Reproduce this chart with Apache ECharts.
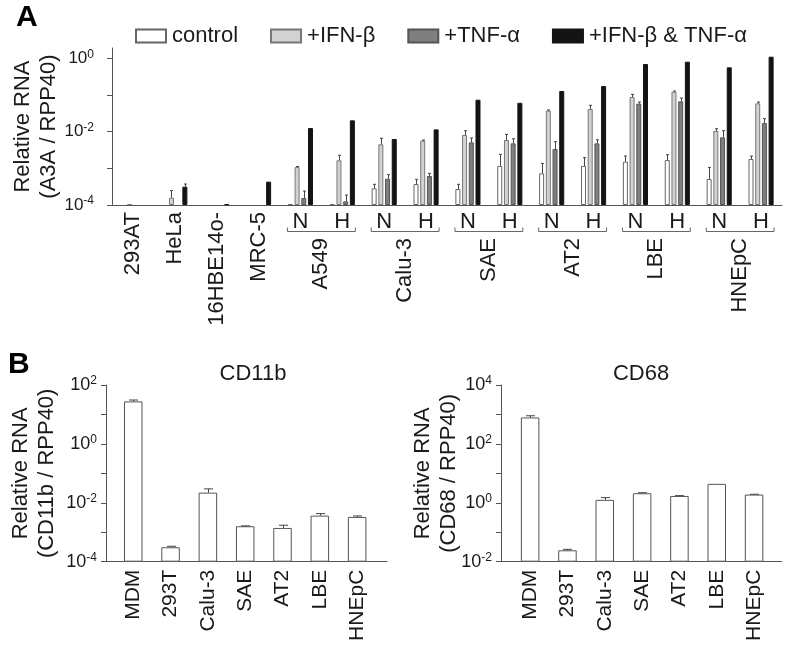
<!DOCTYPE html>
<html><head><meta charset="utf-8">
<script src="https://cdn.jsdelivr.net/npm/echarts@6/dist/echarts.min.js"></script>
<style>html,body{margin:0;padding:0;background:#fff}#c{width:786px;height:648px}</style>
</head><body><div id="c"></div>
<script>
// ---------- Panel A data ----------
const slots = ['293AT','HeLa','16HBE14o-','MRC-5','A549 N','A549 H','Calu-3 N','Calu-3 H','SAE N','SAE H','AT2 N','AT2 H','LBE N','LBE H','HNEpC N','HNEpC H'];
const slotTickLabels = ['','','','','N','H','N','H','N','H','N','H','N','H','N','H'];
const lineNames = ['293AT','HeLa','16HBE14o-','MRC-5','','','','','','','','','','','',''];
const groupNames = ['','','A549','Calu-3','SAE','AT2','LBE','HNEpC'];
const seriesNames = ['control','+IFN-β','+TNF-α','+IFN-β & TNF-α'];

const control    = [null,null,null,null,1.05e-4,1.05e-4,2.85e-4,3.73e-4,2.73e-4,1.16e-3,7.3e-4,1.16e-3,1.52e-3,1.68e-3,5.1e-4,1.79e-3];
const controlErr = [null,null,null,null,null,null,3.66e-4,5.0e-4,3.66e-4,2.4e-3,1.36e-3,1.95e-3,2.16e-3,2.35e-3,1.06e-3,2.16e-3];
const ifn        = [1.05e-4,1.58e-4,null,null,1.08e-3,1.65e-3,4.5e-3,5.66e-3,8.08e-3,5.9e-3,3.72e-2,4.13e-2,8.77e-2,0.122,1.04e-2,5.89e-2];
const ifnErr     = [null,2.47e-4,null,null,1.12e-3,2.26e-3,6.56e-3,5.9e-3,1.06e-2,8.4e-3,3.9e-2,5.2e-2,0.1035,0.128,1.2e-2,6.4e-2];
const tnf        = [null,null,null,null,1.55e-4,1.26e-4,5.2e-4,6.17e-4,5.1e-3,4.79e-3,3.36e-3,4.79e-3,5.77e-2,6.68e-2,6.98e-3,1.71e-2];
const tnfErr     = [null,null,null,null,2.4e-4,1.87e-4,6.7e-4,7.3e-4,6.7e-3,6.4e-3,5.3e-3,6.0e-3,6.4e-2,8.2e-2,1.06e-2,2.25e-2];
const both       = [null,3.16e-4,1.05e-4,4.32e-4,1.25e-2,2.03e-2,6.3e-3,1.15e-2,7.4e-2,6.1e-2,0.128,0.175,0.695,0.805,0.564,1.10];
const bothErr    = [null,3.73e-4,null,null,null,null,null,null,null,null,null,null,null,null,null,null];
const yTicksA = [1e-4,1e-3,1e-2,1e-1,1];
const yLabelsA = [1e-4,1e-2,1];

// ---------- Panel B data ----------
const cellsB = ['MDM','293T','Calu-3','SAE','AT2','LBE','HNEpC'];
const cd11b    = [27.7,3.09e-4,2.22e-2,1.6e-3,1.4e-3,3.67e-3,3.31e-3];
const cd11bErr = [30.9,3.34e-4,2.97e-2,1.65e-3,1.73e-3,4.3e-3,3.58e-3];
const cd68     = [791,0.0244,1.26,2.11,1.71,4.4,1.9];
const cd68Err  = [903,0.0263,1.5,2.2,1.75,null,1.95];
const yTicksB1 = [1e-4,1e-3,1e-2,1e-1,1,10,100];
const yLabelsB1 = [1e-4,1e-2,1,100];
const yTicksB2 = [1e-2,1e-1,1,10,100,1e3,1e4];
const yLabelsB2 = [1e-2,1,100,1e4];

// ---------- styling ----------
const FONT = "'Liberation Sans', Arial, Helvetica, sans-serif";
const TXT = '#1a1a1a';
const AX = '#555';
const fills = ['#ffffff','#d2d2d2','#7f7f7f','#141414'];
const borders = ['#666','#777','#555','#141414'];

function powLabel(big, small) {
  return {
    formatter: v => '{b|10}{s|' + Math.round(Math.log10(v)) + '}',
    rich: {
      b: {fontSize: big, fontFamily: FONT, color: TXT, lineHeight: big + 3},
      s: {fontSize: small, fontFamily: FONT, color: TXT, verticalAlign: 'top', lineHeight: small + 1}
    }
  };
}

function errSeries(vals, errs, xi, yi, off, capHalf) {
  const data = [];
  vals.forEach((v, i) => { if (v != null && errs[i] != null) data.push([i, v, errs[i]]); });
  return {
    type: 'custom', xAxisIndex: xi, yAxisIndex: yi, silent: true, z: 4,
    encode: {x: 0, y: [1, 2]},
    data,
    renderItem: (params, api) => {
      const p0 = api.coord([api.value(0), api.value(1)]);
      const p1 = api.coord([api.value(0), api.value(2)]);
      const cx = Math.round(p0[0] + off) + 0.5;
      const st = {stroke: '#444', lineWidth: 1};
      return {type: 'group', children: [
        {type: 'line', shape: {x1: cx, y1: p0[1], x2: cx, y2: p1[1]}, style: st},
        {type: 'line', shape: {x1: cx - capHalf, y1: p1[1], x2: cx + capHalf, y2: p1[1]}, style: st}
      ]};
    }
  };
}

const valsA = [control, ifn, tnf, both];
const errsA = [controlErr, ifnErr, tnfErr, bothErr];
const BW = 5, PITCH = 6.7;

const series = [];
valsA.forEach((vals, k) => {
  series.push({
    name: seriesNames[k], type: 'bar', xAxisIndex: 0, yAxisIndex: 0,
    barWidth: BW, barGap: '34%',
    itemStyle: {color: fills[k], borderColor: borders[k], borderWidth: 1},
    data: vals
  });
});
valsA.forEach((vals, k) => series.push(errSeries(vals, errsA[k], 0, 0, (k - 1.5) * PITCH, 1.5)));

// brackets under N/H pairs
const bracketData = [];
groupNames.forEach((g, gi) => { if (g) bracketData.push([2 * gi, 2 * gi + 1]); });
series.push({
  type: 'custom', xAxisIndex: 0, yAxisIndex: 0, silent: true, clip: false,
  encode: {x: [0, 1]},
  data: bracketData,
  renderItem: (params, api) => {
    const a = api.coord([api.value(0), yTicksA[0]]);
    const b = api.coord([api.value(1), yTicksA[0]]);
    const y = Math.round(a[1] + 26) + 0.5;
    const x1 = a[0] - 13, x2 = b[0] + 13;
    return {type: 'polyline', shape: {points: [[x1, y - 4], [x1, y], [x2, y], [x2, y - 4]]},
      style: {stroke: '#666', lineWidth: 1, fill: null}};
  }
});

// panel B bars
[[cd11b, cd11bErr, 1], [cd68, cd68Err, 2]].forEach(([vals, errs, idx]) => {
  series.push({
    type: 'bar', xAxisIndex: idx + 2, yAxisIndex: idx, barWidth: 18.5,
    itemStyle: {color: '#fff', borderColor: '#555', borderWidth: 1},
    data: vals.map((v, i) => [i, v])
  });
  series.push(errSeries(vals, errs, idx + 2, idx, 0, 4.5));
});

const catAxisLabelStyle = {fontSize: 21, fontFamily: FONT, color: TXT};

function logY(grid, min, max, ticks, labels, nameText, nameGap, margin, big, small) {
  return {
    type: 'log', logBase: 10, gridIndex: grid, min, max, startValue: min,
    name: nameText, nameLocation: 'middle', nameRotate: 90, nameGap, nameMoveOverlap: false,
    nameTextStyle: {fontSize: 22, fontFamily: FONT, color: TXT, lineHeight: 26},
    axisLine: {show: true, onZero: false, lineStyle: {color: AX, width: 1}},
    axisTick: {show: true, length: 5, customValues: ticks, lineStyle: {color: AX}},
    axisLabel: Object.assign({margin, customValues: labels}, powLabel(big, small)),
    splitLine: {show: false}, minorTick: {show: false}
  };
}

function valX(grid, min, max) {
  return {
    type: 'value', gridIndex: grid, min, max, position: 'bottom',
    axisLine: {show: true, onZero: false, lineStyle: {color: AX, width: 1}},
    axisTick: {show: false},
    axisLabel: Object.assign({customValues: cellsB.map((c, i) => i), formatter: v => cellsB[Math.round(v)] || '',
      rotate: 90, margin: 8}, catAxisLabelStyle),
    splitLine: {show: false}
  };
}

const option = {
  animation: false,
  backgroundColor: '#fff',
  textStyle: {fontFamily: FONT},
  legend: {
    data: seriesNames, left: 130, top: 20, icon: 'rect', itemWidth: 30, itemHeight: 13, itemGap: 32,
    textStyle: {fontSize: 22, fontFamily: FONT, color: TXT, padding: [0, 0, 0, 1]},
    selectedMode: false
  },
  graphic: [
    {type: 'text', left: 16, top: 3, style: {text: 'A', fontSize: 30, fontWeight: 'bold', fontFamily: FONT, fill: '#000'}},
    {type: 'text', left: 8, top: 350, style: {text: 'B', fontSize: 30, fontWeight: 'bold', fontFamily: FONT, fill: '#000'}},
    {type: 'text', x: 253, y: 374, style: {text: 'CD11b', fontSize: 22, fontFamily: FONT, fill: TXT, align: 'center', verticalAlign: 'middle'}},
    {type: 'text', x: 641, y: 374, style: {text: 'CD68', fontSize: 22, fontFamily: FONT, fill: TXT, align: 'center', verticalAlign: 'middle'}}
  ],
  grid: [
    {left: 112, width: 670, top: 48, height: 157},
    {left: 106, right: 399, top: 385, bottom: 86.3},
    {left: 501, right: 4.3, top: 385, bottom: 86.3}
  ],
  xAxis: [
    {type: 'category', gridIndex: 0, data: slots, position: 'bottom',
      axisLine: {show: true, onZero: false, lineStyle: {color: AX, width: 1}}, axisTick: {show: false},
      axisLabel: Object.assign({interval: 0, margin: 6, formatter: (v, i) => slotTickLabels[i]}, catAxisLabelStyle, {fontSize: 22})},
    {type: 'category', gridIndex: 0, data: slots, position: 'bottom',
      axisLine: {show: false}, axisTick: {show: false},
      axisLabel: Object.assign({interval: 0, margin: 7, rotate: 90, formatter: (v, i) => lineNames[i]}, catAxisLabelStyle, {fontSize: 22})},
    {type: 'category', gridIndex: 0, data: groupNames.map((g, i) => 'g' + i), position: 'bottom',
      axisLine: {show: false}, axisTick: {show: false},
      axisLabel: Object.assign({interval: 0, margin: 33, rotate: 90, formatter: (v, i) => groupNames[i]}, catAxisLabelStyle, {fontSize: 22})},
    valX(1, -0.73, 6.8),
    valX(2, -0.78, 6.74)
  ],
  yAxis: [
    logY(0, 1e-4, 1.9, yTicksA, yLabelsA, 'Relative RNA\n(A3A / RPP40)', 50, 18, 17, 12),
    logY(1, 1e-4, 100, yTicksB1, yLabelsB1, 'Relative RNA\n(CD11b / RPP40)', 46, 9, 18, 12),
    logY(2, 1e-2, 1e4, yTicksB2, yLabelsB2, 'Relative RNA\n(CD68 / RPP40)', 39, 9, 18, 12)
  ],
  series
};
const chart = echarts.init(document.getElementById('c'));
chart.setOption(option);
</script>
</body></html>
